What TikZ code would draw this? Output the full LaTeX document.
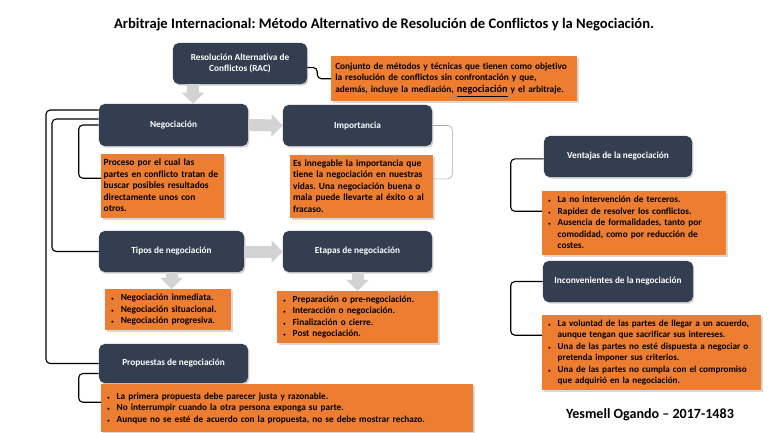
\documentclass[tikz,border=0pt]{standalone}
\usepackage{fontspec}
\setmainfont{Carlito}[Ligatures=NoCommon]
\usetikzlibrary{positioning, calc, arrows.meta, shadows}
\definecolor{azulrac}{HTML}{333F50}
\definecolor{naranja}{HTML}{ED7D31}
\definecolor{grisflecha}{HTML}{D3D3D3}
\newcommand{\vin}{\scalebox{0.5}{\textbullet}}
\frenchspacing

\begin{document}
\begin{tikzpicture}[x=0.025cm, y=-0.025cm,
        tema/.style={rectangle, rounded corners=4pt, fill=azulrac, text=white, align=center, font=\fontsize{6.6}{8.3}\selectfont\bfseries, minimum height=1.025cm, drop shadow={shadow xshift=1pt, shadow yshift=-1.2pt, opacity=0.35}},
        nota/.style={rectangle, fill=naranja, text=black, align=left, anchor=north west, inner xsep=0.1cm, inner ysep=1pt, drop shadow={shadow xshift=1pt, shadow yshift=-1.2pt, opacity=0.3}},
        letra/.style={font=\fontsize{#1}{8.2}\selectfont\bfseries},
        flecha/.style={draw=grisflecha, line width=0.3cm, -{Triangle[length=0.28cm, width=0.55cm]}},
        enlace/.style={draw=black, thick, rounded corners=3pt}
    ]
        \fill[white] (0,0) rectangle (768,433);
        \useasboundingbox (0,0) rectangle (768,433);

        % --- TITULO ---
        \node[font=\fontsize{10.4}{12}\selectfont\bfseries] (titulo) at (384,25) {Arbitraje Internacional: Método Alternativo de Resolución de Conflictos y la Negociación.};

        % --- TEMAS ---
        \node[tema, minimum width=3.35cm] (rac) at (240,63.5) {Resolución Alternativa de\\Conflictos (RAC)};
        \node[tema, minimum width=3.725cm, minimum height=1.05cm] (neg) at (173.5,125) {Negociación};
        \node[tema, minimum width=3.725cm] (imp) at (357.5,125.5) {Importancia};
        \node[tema, minimum width=3.625cm] (tipos) at (171.5,251.5) {Tipos de negociación};
        \node[tema, minimum width=3.725cm] (etapas) at (357.5,251.5) {Etapas de negociación};
        \node[tema, minimum width=3.725cm, minimum height=0.975cm] (prop) at (173.5,363.5) {Propuestas de negociación};
        \node[tema, minimum width=3.7cm] (vent) at (618,156.5) {Ventajas de la negociación};
        \node[tema, minimum width=3.75cm] (inc) at (618,281.5) {Inconvenientes de la negociación};

        % --- NOTAS ---
        \node[nota, letra=6.6, text width=5.95cm, minimum height=1.125cm] (racdesc) at (331,56) {\begin{tabular}{@{}l@{}}
            Conjunto de métodos y técnicas que tienen como objetivo\\
            la resolución de conflictos sin confrontación y que,\\
            además, incluye la mediación, {\fontsize{7.3}{8}\selectfont\underline{negociación}} y el arbitraje.
        \end{tabular}};
        \node[nota, letra=6.7, inner xsep=0.06cm, text width=2.955cm, minimum height=1.6cm] (negdesc) at (101,154) {\begin{tabular}{@{}l@{}}
            Proceso por el cual las\\
            partes en conflicto tratan de\\
            buscar posibles resultados\\
            directamente unos con\\
            otros.
        \end{tabular}};
        \node[nota, letra=6.7, inner xsep=0.07cm, text width=3.435cm, minimum height=1.575cm] (impdesc) at (290,155) {\begin{tabular}{@{}l@{}}
            Es innegable la importancia que\\
            tiene la negociación en nuestras\\
            vidas. Una negociación buena o\\
            mala puede llevarte al éxito o al\\
            fracaso.
        \end{tabular}};
        \node[nota, letra=6.7, text width=2.95cm, minimum height=1.025cm] (tiposlist) at (105,289) {\begin{tabular}{@{\hspace{1.5pt}}l@{\hspace{5pt}}l@{}}
            \vin & Negociación inmediata.\\
            \vin & Negociación situacional.\\
            \vin & Negociación progresiva.
        \end{tabular}};
        \node[nota, letra=6.6, text width=3.825cm, minimum height=1.3cm] (etapaslist) at (277,291) {\begin{tabular}{@{\hspace{1.5pt}}l@{\hspace{5pt}}l@{}}
            \vin & Preparación o pre-negociación.\\
            \vin & Interacción o negociación.\\
            \vin & Finalización o cierre.\\
            \vin & Post negociación.
        \end{tabular}};
        \node[nota, letra=6.6, text width=9.1cm, minimum height=1.2cm] (proplist) at (101,384) {\begin{tabular}{@{\hspace{1.5pt}}l@{\hspace{5pt}}l@{}}
            \vin & La primera propuesta debe parecer justa y razonable.\\
            \vin & No interrumpir cuando la otra persona exponga su parte.\\
            \vin & Aunque no se esté de acuerdo con la propuesta, no se debe mostrar rechazo.
        \end{tabular}};
        \node[nota, letra=6.6, text width=4.4cm, minimum height=1.6cm] (ventlist) at (542,191) {\begin{tabular}{@{\hspace{1.5pt}}l@{\hspace{5pt}}l@{}}
            \vin & La no intervención de terceros.\\
            \vin & Rapidez de resolver los conflictos.\\
            \vin & Ausencia de formalidades, tanto por\\
                 & comodidad, como por reducción de\\
                 & costes.
        \end{tabular}};
        \node[nota, letra=6.5, text width=5.275cm, minimum height=1.875cm] (inclist) at (542,315) {\begin{tabular}{@{\hspace{1.5pt}}l@{\hspace{5pt}}l@{}}
            \vin & La voluntad de las partes de llegar a un acuerdo,\\
                 & aunque tengan que sacrificar sus intereses.\\
            \vin & Una de las partes no esté dispuesta a negociar o\\
                 & pretenda imponer sus criterios.\\
            \vin & Una de las partes no cumpla con el compromiso\\
                 & que adquirió en la negociación.
        \end{tabular}};

        % --- AUTOR ---
        \node[font=\fontsize{10}{12}\selectfont\bfseries] (autor) at (650,415) {Yesmell Ogando – 2017-1483};

        % --- FLECHAS ---
        \draw[flecha] ([xshift=-1.175cm]rac.south) -- ([xshift=-1.175cm]rac.south |- neg.north);
        \draw[flecha] (neg.east) -- (imp.west);
        \draw[flecha] (tipos.east) -- (etapas.west);
        \draw[flecha] (tipos.south) -- (tipos.south |- tiposlist.north);
        \draw[flecha] (etapas.south) -- (etapas.south |- etapaslist.north);

        % --- CONEXIONES ---
        \draw[enlace] ([yshift=-0.1cm]rac.east) -- ++(10,0) |- (racdesc.west);
        \draw[enlace] ([yshift=0.375cm]neg.west) -| (46,363.5) -- (prop.west);
        \draw[enlace] ([yshift=0.15cm]neg.west) -| (52,251.5) -- (tipos.west);
        \draw[enlace] (neg.west) -- ++(-20,0) |- ([yshift=0.2cm]negdesc.west);
        \draw[enlace, draw=gray!70, thin] (imp.east) -- ++(20,0) |- ([yshift=0.2cm]impdesc.east);
        \draw[enlace] ([yshift=-0.25cm]prop.west) -- ++(-20,0) |- ([yshift=0.15cm]proplist.west);
        \draw[enlace] ([yshift=-0.06cm]vent.west) -- ++(-33,0) |- ([yshift=0.3cm]ventlist.west);
        \draw[enlace] (inc.west) -- ++(-32,0) |- ([yshift=0.44cm]inclist.west);

    \end{tikzpicture}
\end{document}
